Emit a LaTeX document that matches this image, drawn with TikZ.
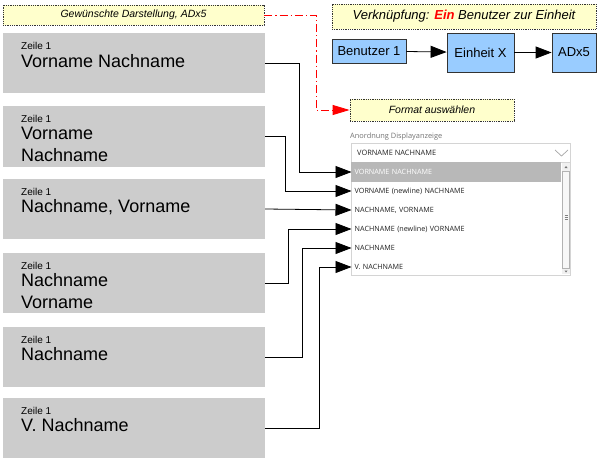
\documentclass[tikz,border=0pt]{standalone}
\usepackage{fontspec}
\setmainfont{Liberation Sans}
\newfontfamily\uifont{Open Sans}
\usetikzlibrary{arrows.meta,positioning}
\definecolor{boxgray}{HTML}{CCCCCC}
\definecolor{noteyellow}{HTML}{FFFFCC}
\definecolor{boxblue}{HTML}{99CCFF}
\definecolor{uiborder}{HTML}{D4D4D4}
\definecolor{uihl}{HTML}{B8B8B8}
\definecolor{uitext}{HTML}{222222}
\tikzset{
  graybox/.style={fill=boxgray, draw=none, minimum width=262pt, minimum height=60pt, inner sep=0pt},
  notebox/.style={fill=noteyellow, draw=black!80, densely dotted, line width=0.8pt, inner sep=0pt, font=\itshape},
  bluebox/.style={fill=boxblue, draw=black!80, line width=0.8pt, inner sep=0pt, font=\fontsize{13}{15}\selectfont},
  small/.style={anchor=base west, inner sep=0pt, font=\fontsize{10}{12}\selectfont},
  big/.style={anchor=base west, inner sep=0pt, font=\fontsize{18}{21}\selectfont},
  item/.style={anchor=west, inner xsep=3pt, inner ysep=0pt, text width=204pt, minimum height=19pt, font=\uifont\fontsize{7.2}{8}\selectfont, text=uitext, align=left},
  conn/.style={draw=black, line width=0.8pt, -{Triangle[length=16pt,width=12pt]}},
  redconn/.style={draw=red, line width=0.9pt, dash pattern=on 8pt off 3pt on 1.2pt off 3pt, -{Triangle[length=17pt,width=10pt]}}
}
\begin{document}
\begin{tikzpicture}[x=1pt,y=-1pt]
\useasboundingbox[fill=white] (0,0) rectangle (599,463);

% note boxes
\node[notebox, minimum width=261pt, minimum height=20pt, font=\itshape\fontsize{10.5}{12}\selectfont] (n1) at (133.5,15) {Gewünschte Darstellung, ADx5};
\node[notebox, minimum width=264pt, minimum height=25pt, font=\itshape\fontsize{13}{15}\selectfont] (n2) at (464,16.5) {Verknüpfung: \textcolor{red}{\textbf{Ein}} Benutzer zur Einheit};
\node[notebox, minimum width=164pt, minimum height=22pt, font=\itshape\fontsize{10.5}{12}\selectfont] (n3) at (432,110) {Format auswählen};

% blue chain
\node[bluebox, minimum width=74pt, minimum height=24pt] (u1) at (369,51) {Benutzer 1};
\node[bluebox, minimum width=67pt, minimum height=39pt] (e1) at (480.5,52.5) {Einheit X};
\node[bluebox, minimum width=44pt, minimum height=39pt] (a1) at (574,52.5) {ADx5};
\draw[conn] (u1) -- (e1);
\draw[conn] (e1) -- (a1);

% red link
\coordinate (rc) at (316,15);
\draw[redconn] (n1.east) -- (rc) |- (n3.west);

% gray boxes
\node[graybox] (b1) at (134,63) {};
\node[graybox, minimum height=61pt] (b2) at (134,136.5) {};
\node[graybox] (b3) at (134,209) {};
\node[graybox] (b4) at (134,283) {};
\node[graybox] (b5) at (134,357) {};
\node[graybox] (b6) at (134,428) {};

\node[small] (z1) at (21,49) {Zeile 1};
\node[big] (t1) at (21,67) {Vorname Nachname};
\node[small] (z2) at (21,122) {Zeile 1};
\node[big] (t2) at (21,139) {Vorname};
\node[big] (t2b) at (21,161) {Nachname};
\node[small] (z3) at (21,195) {Zeile 1};
\node[big] (t3) at (21,212) {Nachname, Vorname};
\node[small] (z4) at (21,269) {Zeile 1};
\node[big] (t4) at (21,286) {Nachname};
\node[big] (t4b) at (21,308) {Vorname};
\node[small] (z5) at (21,343) {Zeile 1};
\node[big] (t5) at (21,360) {Nachname};
\node[small] (z6) at (21,414) {Zeile 1};
\node[big] (t6) at (21,431) {V. Nachname};

% dropdown UI
\node[anchor=base west, inner sep=0pt, font=\uifont\fontsize{7.4}{8}\selectfont, text=black!55] (lbl) at (350,138) {Anordnung Displayanzeige};
\node[draw=uiborder, line width=0.6pt, fill=white, minimum width=219pt, minimum height=19pt, inner sep=0pt] (sel) at (460.5,152.5) {};
\node[anchor=west, inner sep=0pt, font=\uifont\fontsize{7.4}{8}\selectfont, text=uitext] (selt) at (357,153) {VORNAME NACHNAME};
\draw[black!35, line width=0.7pt] (555,150) -- (561.5,156) -- (568,150);
\node[draw=uiborder, line width=0.6pt, fill=white, minimum width=219pt, minimum height=113pt, inner sep=0pt] (lst) at (460.5,218.5) {};
\fill[uihl] (351.3,162.3) rectangle (561,181.5);
% scrollbar
\fill[black!6] (562,163) rectangle (570,274);
\draw[black!30, fill=black!3, line width=0.5pt] (562.5,171) rectangle (569.5,268);
\fill[black!55] (564.5,168) -- (567.5,168) -- (566,166) -- cycle;
\fill[black!55] (564.5,270.5) -- (567.5,270.5) -- (566,272.5) -- cycle;
\draw[black!50, line width=0.4pt] (564.5,215) -- (567.5,215) (564.5,217) -- (567.5,217) (564.5,219) -- (567.5,219);

\node[item, text=white] (i1) at (351.5,172) {VORNAME NACHNAME};
\node[item] (i2) at (351.5,191) {VORNAME (newline) NACHNAME};
\node[item] (i3) at (351.5,210) {NACHNAME, VORNAME};
\node[item] (i4) at (351.5,229) {NACHNAME (newline) VORNAME};
\node[item] (i5) at (351.5,248) {NACHNAME};
\node[item] (i6) at (351.5,267) {V. NACHNAME};

% connectors
\draw[conn] (b1.east) -- ++(34,0) |- (i1.west);
\draw[conn] (b2.east) -- ++(20,0) |- (i2.west);
\draw[conn] (b3.east) -- (i3.west);
\draw[conn] (b4.east) -- ++(23,0) |- (i4.west);
\draw[conn] (b5.east) -- ++(37,0) |- (i5.west);
\draw[conn] (b6.east) -- ++(54,0) |- (i6.west);
\end{tikzpicture}
\end{document}
